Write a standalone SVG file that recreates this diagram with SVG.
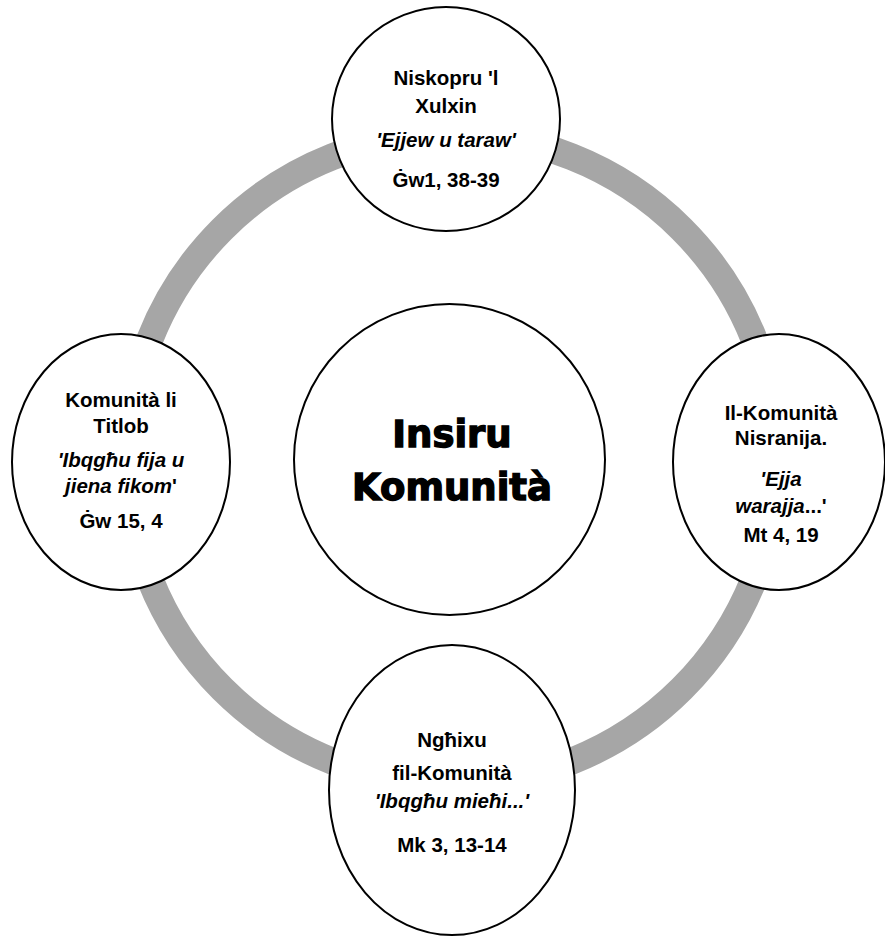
<svg xmlns="http://www.w3.org/2000/svg" width="885" height="937" viewBox="0 0 885 937">
  <style>
    .node { fill: #ffffff; stroke: #000000; stroke-width: 2; }
    .ring { fill: none; stroke: #a6a6a6; stroke-width: 27; }
    .t { font-family: "Liberation Sans", Arial, sans-serif; font-weight: bold; font-size: 20.5px; fill: #000000; text-anchor: middle; }
    .i { font-style: italic; }
    .n { font-style: normal; }
    .big { font-family: "DejaVu Sans", "Liberation Sans", sans-serif; font-weight: bold; font-size: 37px; fill: #000000; stroke: #000000; stroke-width: 1.4; text-anchor: middle; }
  </style>
  <rect width="885" height="937" fill="#ffffff"/>
  <g id="connectors">
    <circle class="ring" cx="452" cy="459" r="325"/>
  </g>
  <g id="center">
    <circle class="node" cx="449.5" cy="459.5" r="155.5"/>
    <text class="big" x="452" y="447">Insiru</text>
    <text class="big" x="452" y="500">Komunità</text>
  </g>
  <g id="top">
    <ellipse class="node" cx="446" cy="119" rx="114" ry="112"/>
    <text class="t" x="446" y="85">Niskopru 'l</text>
    <text class="t" x="446" y="113">Xulxin</text>
    <text class="t i" x="446" y="147">'Ejjew u taraw'</text>
    <text class="t" x="446" y="187">Ġw1, 38-39</text>
  </g>
  <g id="left">
    <ellipse class="node" cx="121" cy="462" rx="109" ry="128"/>
    <text class="t" x="121" y="407">Komunità li</text>
    <text class="t" x="121" y="433">Titlob</text>
    <text class="t i" x="121" y="467">'Ibqgħu fija u</text>
    <text class="t i" x="121" y="493">jiena fikom<tspan class="n">'</tspan></text>
    <text class="t" x="121" y="528">Ġw 15, 4</text>
  </g>
  <g id="right">
    <ellipse class="node" cx="779" cy="462" rx="106" ry="128"/>
    <text class="t" x="781" y="420">Il-Komunità</text>
    <text class="t" x="781" y="445">Nisranija.</text>
    <text class="t i" x="781" y="486">'Ejja</text>
    <text class="t i" x="781" y="513">warajja<tspan class="n">...'</tspan></text>
    <text class="t" x="781" y="542">Mt 4, 19</text>
  </g>
  <g id="bottom">
    <ellipse class="node" cx="452" cy="790" rx="123" ry="145"/>
    <text class="t" x="452" y="747">Ngħixu</text>
    <text class="t" x="452" y="780">fil-Komunità</text>
    <text class="t i" x="452" y="808">'Ibqgħu mieħi...'</text>
    <text class="t" x="452" y="852">Mk 3, 13-14</text>
  </g>
</svg>
